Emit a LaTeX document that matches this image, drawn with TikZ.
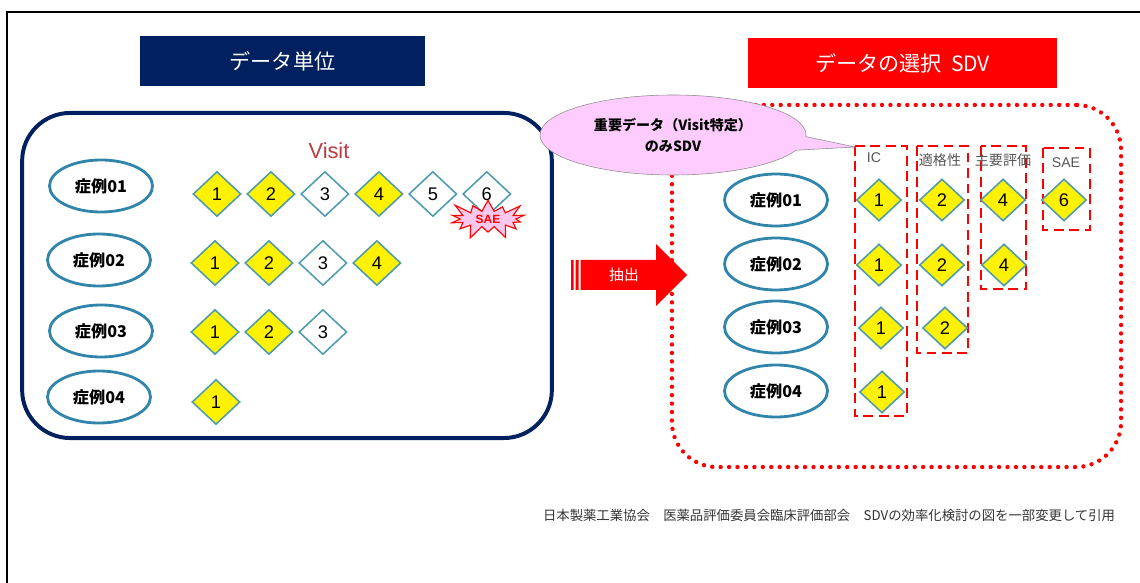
\documentclass[tikz,border=0pt]{standalone}
\usepackage{fontspec}
\setmainfont{Liberation Sans}
\newfontfamily\cjk{Noto Sans CJK JP}
\usetikzlibrary{positioning,shapes.geometric,shapes.symbols,shapes.callouts}

\definecolor{navy}{HTML}{002060}
\definecolor{caseblue}{HTML}{3185AA}
\definecolor{dmdedge}{HTML}{4E9AAE}
\definecolor{visitred}{HTML}{C0393F}
\definecolor{bubblepink}{HTML}{FFCCFF}
\definecolor{starpink}{HTML}{FFC8EE}
\definecolor{headgray}{HTML}{555555}

\begin{document}
\begin{tikzpicture}[
  x=0.025cm,y=-0.025cm,
  node distance=0.11cm and 0.11cm,
  title/.style={rectangle,minimum height=1.25cm,inner sep=0pt,text=white,
                font=\cjk\fontsize{15}{18}\selectfont},
  case/.style={ellipse,draw=caseblue,line width=2pt,fill=white,minimum width=2.575cm,
               minimum height=1.3cm,inner sep=0pt,font=\cjk\bfseries\fontsize{11.5}{13}\selectfont},
  visit/.style={diamond,draw=dmdedge,line width=1.1pt,minimum width=1.2cm,
                minimum height=1.125cm,inner sep=0pt,font=\fontsize{13}{15}\selectfont},
  yel/.style={visit,fill=yellow},
  wht/.style={visit,fill=white},
  yels/.style={yel,minimum width=1.125cm,minimum height=1.05cm},
  colbox/.style={draw=red,line width=1.8pt,dash pattern=on 7pt off 4pt},
  head/.style={text=headgray,inner sep=0pt,font=\fontsize{10}{12}\selectfont}
]
  \useasboundingbox (0,0) rectangle (1140,583);
  \draw[line width=1.6pt] (7,583) -- (7,12) -- (1140,12);

  % titles
  \node[title,fill=navy,minimum width=7.125cm] (unittitle) at (282.5,61) {データ単位};
  \node[title,fill=red,minimum width=7.725cm] (sdvtitle) at (902.5,63) {データの選択\ \ SDV};

  % visit data per case
  \node[draw=navy,line width=2.8pt,rounded corners=1.2cm,minimum width=13.24cm,
        minimum height=8.125cm] (unitbox) at (287,275.5) {};
  \node[text=visitred,font=\fontsize{15.5}{18}\selectfont] (visitlabel) at (329,151) {Visit};

  \node[case] (case1) at (101,186) {症例01};
  \node[case] (case2) at (99,260) {症例02};
  \node[case] (case3) at (101,331) {症例03};
  \node[case] (case4) at (99,397) {症例04};

  \node[yel] (v11) at (217,194) {1};
  \node[yel,right=of v11] (v12) {2};
  \node[wht,right=of v12] (v13) {3};
  \node[yel,right=of v13] (v14) {4};
  \node[wht,right=of v14] (v15) {5};
  \node[wht,right=of v15] (v16) {6};

  \node[yel] (v21) at (215,263) {1};
  \node[yel,right=of v21] (v22) {2};
  \node[wht,right=of v22] (v23) {3};
  \node[yel,right=of v23] (v24) {4};

  \node[yel] (v31) at (215,332) {1};
  \node[yel,right=of v31] (v32) {2};
  \node[wht,right=of v32] (v33) {3};

  \node[yel] (v41) at (216,402) {1};

  \node[starburst,draw=red,fill=starpink,line width=0.8pt,minimum width=2.15cm,
        minimum height=1.15cm,starburst points=14,starburst point height=0.38cm,
        inner sep=0pt,text=red,font=\bfseries\fontsize{8.5}{10}\selectfont] (sae) at (488,219) {SAE};

  % extraction arrow
  \fill[red] (571,260) rectangle (573.5,290) (575.5,260) rectangle (578.5,290);
  \fill[red] (580.5,260) -- (656,260) -- (656,244) -- (687,275) -- (656,306)
    -- (656,290) -- (580.5,290) -- cycle;
  \node[text=white,font=\cjk\fontsize{10.5}{12}\selectfont] (extract) at (624,275) {抽出};

  % selected data
  \node[draw=red,line width=3.1pt,dash pattern=on 0pt off 6pt,line cap=round,
        rounded corners=1.125cm,minimum width=11.225cm,minimum height=9.05cm] (sdvbox) at (896.5,286) {};

  \draw[colbox] (855,146) rectangle (907,416);
  \draw[colbox] (917,146) rectangle (968,353);
  \draw[colbox] (981,146) rectangle (1026,289);
  \draw[colbox] (1043,148) rectangle (1090,230);

  \node[head] (hic) at (874,158) {IC};
  \node[head,font=\cjk\fontsize{10}{12}\selectfont] (helig) at (940,160) {適格性};
  \node[head,font=\cjk\fontsize{10}{12}\selectfont] (hmain) at (1003,160) {主要評価};
  \node[head] (hsae) at (1066,163) {SAE};

  \node[case] (scase1) at (776,200) {症例01};
  \node[case] (scase2) at (776,264) {症例02};
  \node[case] (scase3) at (776,327) {症例03};
  \node[case] (scase4) at (776,391) {症例04};

  \node[yels] (ic1) at (879,200) {1};
  \node[yels] (ic2) at (879,265) {1};
  \node[yels] (ic3) at (881,328) {1};
  \node[yels] (ic4) at (882,392) {1};
  \node[yels] (el1) at (942,200) {2};
  \node[yels] (el2) at (942,265) {2};
  \node[yels] (el3) at (945,328) {2};
  \node[yels] (mn1) at (1003,200) {4};
  \node[yels] (mn2) at (1004,265) {4};
  \node[yels] (sa1) at (1064,200) {6};

  \node[ellipse callout,draw=black!45,fill=bubblepink,minimum width=6.65cm,minimum height=2cm,
        callout absolute pointer={(855,147)},callout pointer arc=20,inner sep=0pt,align=center,
        font=\cjk\bfseries\fontsize{10}{15}\selectfont] (bubble) at (673,135)
        {重要データ（Visit特定）\\のみSDV};

  % source
  \node[anchor=east,text=black!80,font=\cjk\fontsize{9.5}{11}\selectfont] (source) at (1120,515)
    {日本製薬工業協会　医薬品評価委員会臨床評価部会　SDVの効率化検討の図を一部変更して引用};
\end{tikzpicture}
\end{document}
